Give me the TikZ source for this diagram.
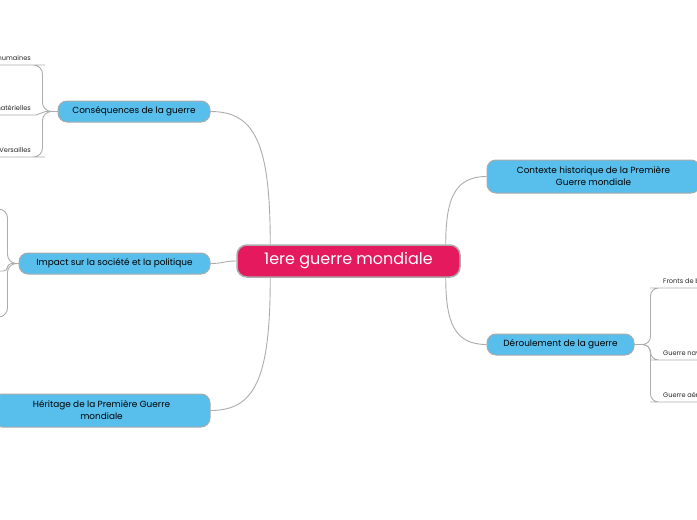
\documentclass[tikz,border=0pt]{standalone}
\usepackage{fontspec}
\setmainfont{Poppins}
\definecolor{warred}{RGB}{229,25,94}
\definecolor{topicblue}{RGB}{88,191,237}
\definecolor{rimgray}{RGB}{170,170,170}
\definecolor{linkgray}{RGB}{172,172,172}
\begin{document}
\begin{tikzpicture}[x=1pt,y=-1pt,
  root/.style={draw=rimgray, line width=1.5pt, fill=warred, text=white,
    rounded corners=10pt, minimum width=223pt, minimum height=32pt,
    font=\fontsize{16}{18}\selectfont},
  topic/.style={draw=rimgray, line width=1pt, fill=topicblue, text=black,
    rounded corners=9pt, minimum height=21pt, align=center,
    font=\fontsize{8.9}{12}\selectfont},
  leaf/.style={inner xsep=5pt, inner ysep=4pt, text=black!85,
    font=\fontsize{6.6}{7}\selectfont},
  link/.style={draw=linkgray, line width=0.9pt}]
\useasboundingbox (0,0) rectangle (697,520);

% Central topic
\node[root] (war) at (348.5,261) {1ere guerre mondiale};

% Main topics
\node[topic, minimum width=152pt] (cons) at (134,111.5) {Conséquences de la guerre};
\node[topic, minimum width=191pt] (imp) at (114.5,263.5) {Impact sur la société et la politique};
\node[topic, minimum width=217pt, minimum height=33pt] (her) at (101.5,410.5)
  {Héritage de la Première Guerre\\mondiale};
\node[topic, minimum width=213pt, minimum height=33pt] (ctx) at (593.5,176.5)
  {Contexte historique de la Première\\Guerre mondiale};
\node[topic, minimum width=147pt] (der) at (560.5,344.5) {Déroulement de la guerre};

% Subtopics
\node[leaf, anchor=south east] (losses) at (36,65) {Pertes humaines};
\node[leaf, anchor=south east] (damage) at (36,115) {Pertes matérielles};
\node[leaf, anchor=south east] (treaty) at (36,157) {Traité de Versailles};
\node[leaf, anchor=south west] (fronts) at (658,288) {Fronts de bataille};
\node[leaf, anchor=south west] (naval) at (658,360) {Guerre navale};
\node[leaf, anchor=south west] (air) at (658,402) {Guerre aérienne};
\coordinate (soc1) at (-12,209);
\coordinate (soc2) at (-12,271);
\coordinate (soc3) at (-12,317);

% Links from the central topic
\draw[link] (cons.east) .. controls +(45,0) and +(0,-100) .. ([xshift=34pt]war.north west);
\draw[link] (imp.east) .. controls +(14,0) and +(-14,0) .. (war.west);
\draw[link] (her.east) .. controls +(45,0) and +(0,100) .. ([xshift=34pt]war.south west);
\draw[link] (ctx.west) .. controls +(-32,0) and +(0,-45) .. ([xshift=-15pt]war.north east);
\draw[link] (der.west) .. controls +(-32,0) and +(0,45) .. ([xshift=-15pt]war.south east);

% Links to subtopics
\draw[link, rounded corners=9pt] (cons.west) -- ++(-15,0) |- (losses.south east) -- (losses.south west);
\draw[link] (cons.west) -- ++(-12,0) to[out=180,in=0] (damage.south east) -- (damage.south west);
\draw[link, rounded corners=9pt] (cons.west) -- ++(-15,0) |- (treaty.south east) -- (treaty.south west);
\draw[link, rounded corners=9pt] (imp.west) -- ++(-11,0) |- (soc1);
\draw[link, rounded corners=4pt] (imp.west) -- ++(-11,0) |- (soc2);
\draw[link, rounded corners=9pt] (imp.west) -- ++(-11,0) |- (soc3);
\draw[link, rounded corners=8pt] (der.east) -- ++(16,0) |- (fronts.south west) -- (fronts.south east);
\draw[link, rounded corners=8pt] (der.east) -- ++(16,0) |- (naval.south west) -- (naval.south east);
\draw[link, rounded corners=8pt] (der.east) -- ++(16,0) |- (air.south west) -- (air.south east);
\end{tikzpicture}
\end{document}
